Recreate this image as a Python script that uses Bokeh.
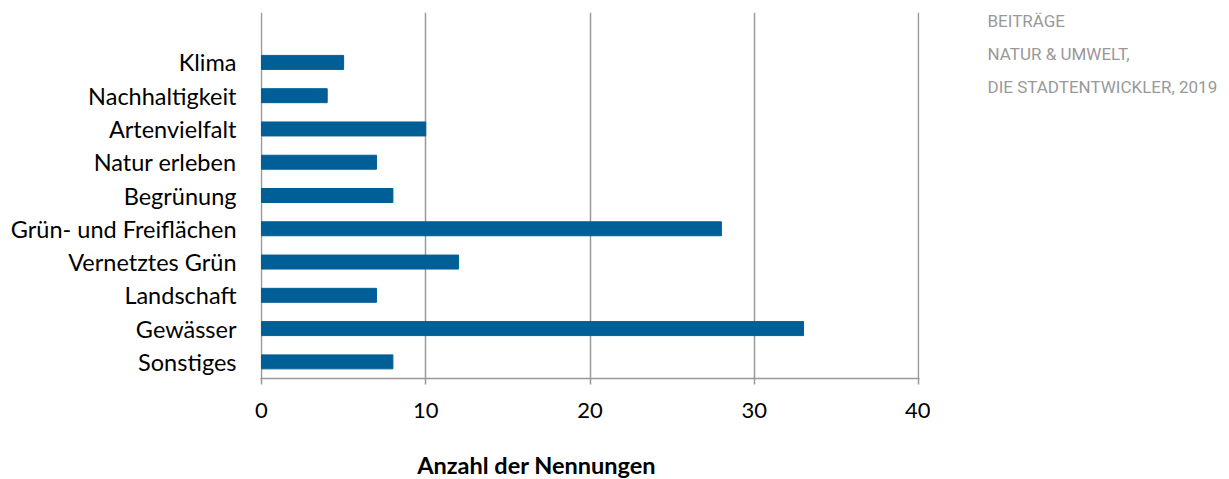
from bokeh.plotting import figure
from bokeh.layouts import row, column
from bokeh.models import Range1d, FixedTicker, ColumnDataSource
from bokeh.core.properties import value
from bokeh.embed import file_html
from bokeh.resources import INLINE

categories = ["Klima", "Nachhaltigkeit", "Artenvielfalt", "Natur erleben", "Begrünung",
              "Grün- und Freiflächen", "Vernetztes Grün", "Landschaft", "Gewässer", "Sonstiges"]
values = [5, 4, 10, 7, 8, 28, 12, 7, 33, 8]
x_ticks = [0, 10, 20, 30, 40]
source_lines = ["BEITRÄGE", "NATUR & UMWELT,", "DIE STADTENTWICKLER, 2019"]
x_title = "Anzahl der Nennungen"

n = len(categories)
ypos = [n - 1 - i for i in range(n)]
src = ColumnDataSource(dict(y=ypos, v=values, cat=categories))

W = 1229
W_MAIN = 930
H = 479
H_MAIN = 432
FRAME_TOP = 12
FRAME_BOTTOM = 378
FRAME_LEFT = 260
FRAME_RIGHT = 919
pad = 0.06
xr = (x_ticks[0] - pad, x_ticks[-1] + pad)

p = figure(width=W_MAIN, height=H_MAIN, output_backend="svg", toolbar_location=None,
           x_range=Range1d(*xr), y_range=Range1d(-0.5, 10.5),
           min_border_left=FRAME_LEFT, min_border_right=W_MAIN - FRAME_RIGHT,
           min_border_top=FRAME_TOP, min_border_bottom=H_MAIN - FRAME_BOTTOM)
p.outline_line_color = None
p.background_fill_color = "white"
p.border_fill_color = "white"

p.hbar(y="y", right="v", left=0, height=0.42, source=src, color="#005F96")

# x axis
p.xaxis.ticker = FixedTicker(ticks=x_ticks)
p.xaxis.axis_line_color = "#999999"
p.xaxis.axis_line_width = 1.5
p.xaxis.major_tick_line_color = "#999999"
p.xaxis.major_tick_line_width = 1.5
p.xaxis.major_tick_out = 6
p.xaxis.major_tick_in = 0
p.xaxis.minor_tick_line_color = None
p.xaxis.major_label_text_font = "Lato"
p.xaxis.major_label_text_font_size = "22px"
p.xaxis.major_label_text_color = "#000000"
p.xaxis.major_label_standoff = 18

p.xgrid.ticker = FixedTicker(ticks=x_ticks)
p.xgrid.grid_line_color = "#999999"
p.xgrid.grid_line_width = 1.5
p.ygrid.grid_line_color = None

# y axis
p.yaxis.ticker = FixedTicker(ticks=ypos)
p.yaxis.major_label_overrides = {y: c for y, c in zip(ypos, categories)}
p.yaxis.axis_line_color = None
p.yaxis.major_tick_line_color = None
p.yaxis.minor_tick_line_color = None
p.yaxis.major_tick_out = 0
p.yaxis.major_tick_in = 0
p.yaxis.major_label_standoff = 24
p.yaxis.major_label_text_font = "Lato"
p.yaxis.major_label_text_font_size = "23.5px"
p.yaxis.major_label_text_color = "#000000"

# source note in a separate text panel on the right (its frame is aligned with p's frame)
p2 = figure(width=W - W_MAIN, height=H_MAIN, output_backend="svg", toolbar_location=None,
            x_range=Range1d(0, W - W_MAIN), y_range=Range1d(FRAME_BOTTOM, FRAME_TOP),
            min_border=0, x_axis_location=None, y_axis_location=None)
p2.outline_line_color = None
p2.grid.visible = False
p2.text(x=[57] * len(source_lines), y=[20 + 33 * i for i in range(len(source_lines))],
        text=source_lines, text_font=value("Roboto"), text_font_size="17px",
        text_color="#999999", text_align="left", text_baseline="middle")

# axis title strip below the chart, with the same horizontal frame as p
H_T = H - H_MAIN
p3 = figure(width=W, height=H_T, output_backend="svg", toolbar_location=None,
            x_range=Range1d(*xr), y_range=Range1d(0, H_T),
            min_border_left=FRAME_LEFT, min_border_right=W - FRAME_RIGHT,
            min_border_top=0, min_border_bottom=0,
            x_axis_location=None, y_axis_location=None)
p3.outline_line_color = None
p3.grid.visible = False
p3.text(x=[16.75], y=[15], text=[x_title], text_font=value("Lato"),
        text_font_style="bold", text_font_size="23.5px", text_color="#000000",
        text_align="center", text_baseline="middle")

open("out.html", "w").write(file_html(column(row(p, p2), p3), INLINE))
